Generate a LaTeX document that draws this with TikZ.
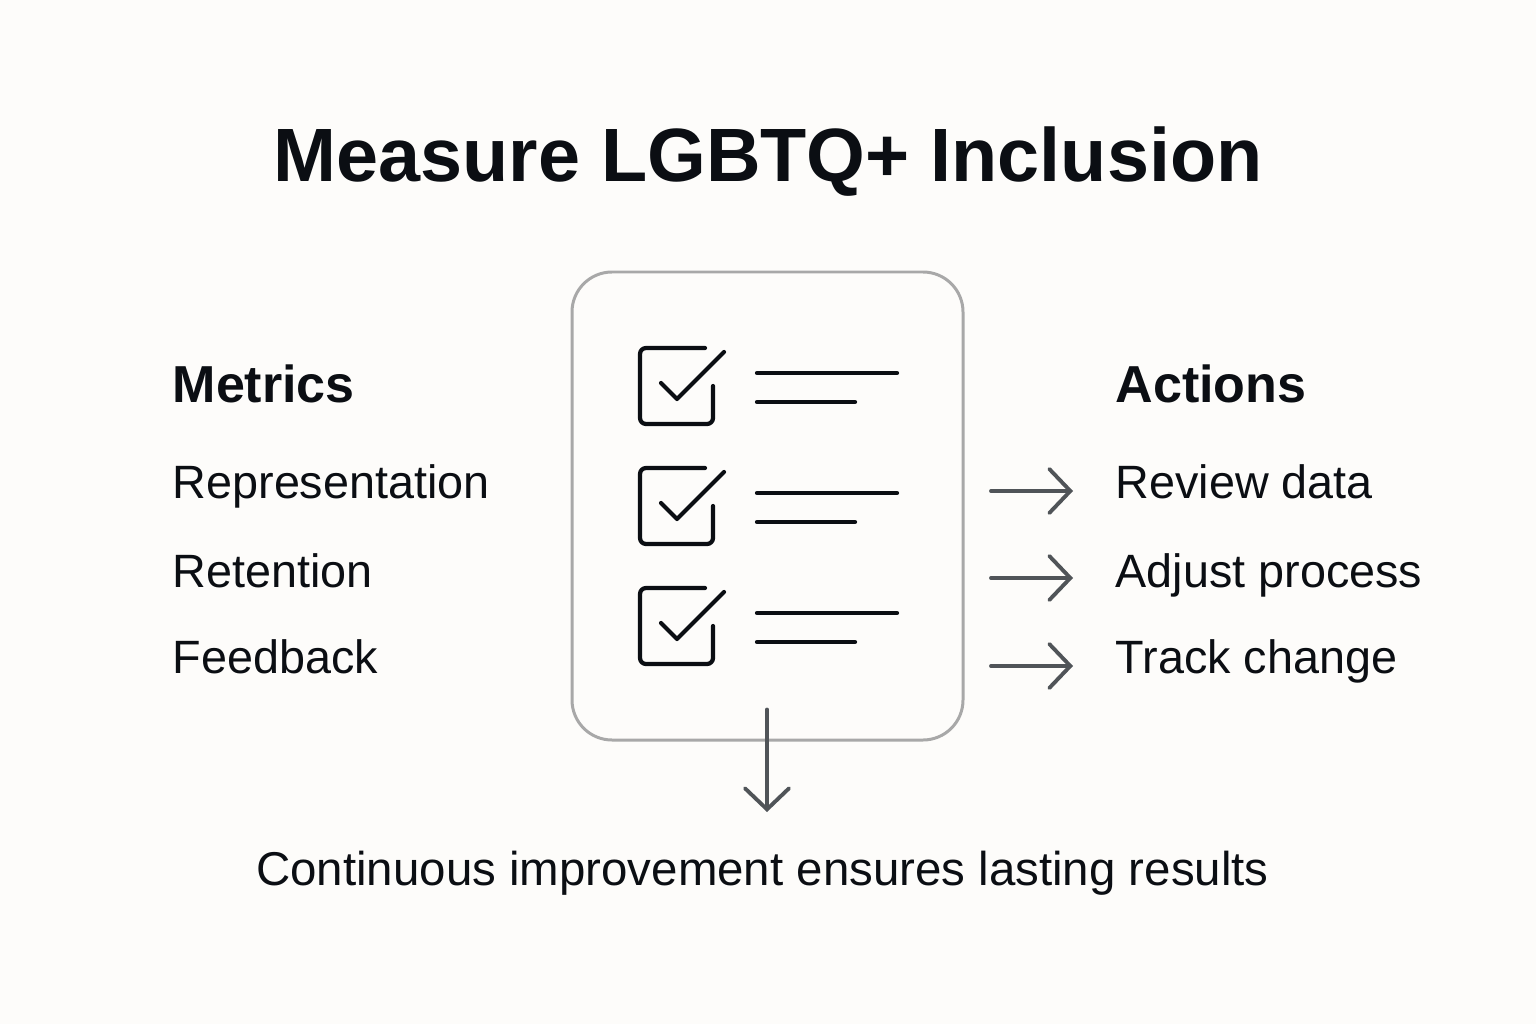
\documentclass[tikz,border=0pt]{standalone}
\usepackage{fontspec}
\setmainfont{Liberation Sans}
\usepackage{tikz}
\usetikzlibrary{arrows.meta,positioning,calc}
\definecolor{bgPaper}{RGB}{253,252,250}
\definecolor{inkDark}{RGB}{11,14,19}
\definecolor{arrowGray}{RGB}{80,84,88}
\definecolor{frameGray}{RGB}{168,168,168}

\tikzset{
  heading/.style={inkDark, font=\fontsize{21.5}{26}\selectfont\bfseries, inner sep=0pt},
  colhead/.style={inkDark, font=\fontsize{14.8}{18}\selectfont\bfseries, inner sep=0pt, anchor=base west},
  item/.style={inkDark, font=\fontsize{13.3}{16}\selectfont, inner sep=0pt, anchor=base west},
  flow/.style={arrowGray, line width=1.1pt, line cap=round,
    -{Straight Barb[length=2.1mm, width=4.4mm, line cap=round]}},
  icon/.style={inkDark, line width=1.2pt, line cap=round, line join=round}
}

\begin{document}
\begin{tikzpicture}
    % page and background
    \fill[bgPaper] (0,0) rectangle (15.36,10.24);
    \useasboundingbox (0,0) rectangle (15.36,10.24);
    % title
    \node[heading, anchor=base] (title) at (7.68,8.42) {Measure LGBTQ+ Inclusion};
    % checklist card
    \node[draw=frameGray, line width=0.85pt, rounded corners=0.4cm,
          minimum width=3.91cm, minimum height=4.68cm, inner sep=0pt] (card) at (7.675,5.18) {};
    % checked items with their text lines
    \foreach \k in {0,1,2} {
      \begin{scope}[yshift={-1.2cm*\k}]
        \draw[icon, rounded corners=0.06cm] (7.05,6.76) -- (6.40,6.76) -- (6.40,6.00) -- (7.13,6.00) -- (7.13,6.38);
        \draw[icon] (6.61,6.41) -- (6.77,6.25) -- (7.24,6.72);
        \draw[icon] (7.57,6.51) -- (8.97,6.51);
        \draw[icon] (7.57,6.22) -- (8.55,6.22);
      \end{scope}
    }
    % metrics column
    \node[colhead] (metrics) at (1.72,6.22) {Metrics};
    \node[item] (repr) at (1.72,5.26) {Representation};
    \node[item] (reten) at (1.72,4.37) {Retention};
    \node[item] (feedb) at (1.72,3.51) {Feedback};
    % actions column
    \node[colhead] (actions) at (11.15,6.22) {Actions};
    \node[item] (review) at (11.15,5.26) {Review data};
    \node[item] (adjust) at (11.15,4.37) {Adjust process};
    \node[item] (track) at (11.15,3.51) {Track change};
    % arrows from the card to the actions
    \coordinate (t1) at (9.91,5.33);
    \coordinate (t2) at (9.91,4.46);
    \coordinate (t3) at (9.91,3.58);
    \draw[flow, shorten >=0.42cm] (t1) -- (t1 -| review.west);
    \draw[flow, shorten >=0.42cm] (t2) -- (t2 -| adjust.west);
    \draw[flow, shorten >=0.42cm] (t3) -- (t3 -| track.west);
    % closing note
    \node[item, anchor=base, font=\fontsize{13.5}{16}\selectfont] (note) at (7.625,1.39) {Continuous improvement ensures lasting results};
    \coordinate (dtop) at ($(card.south)+(-0.005,0.32)$);
    \draw[flow] (dtop) -- (dtop |- 0,2.12);
  \end{tikzpicture}
\end{document}
